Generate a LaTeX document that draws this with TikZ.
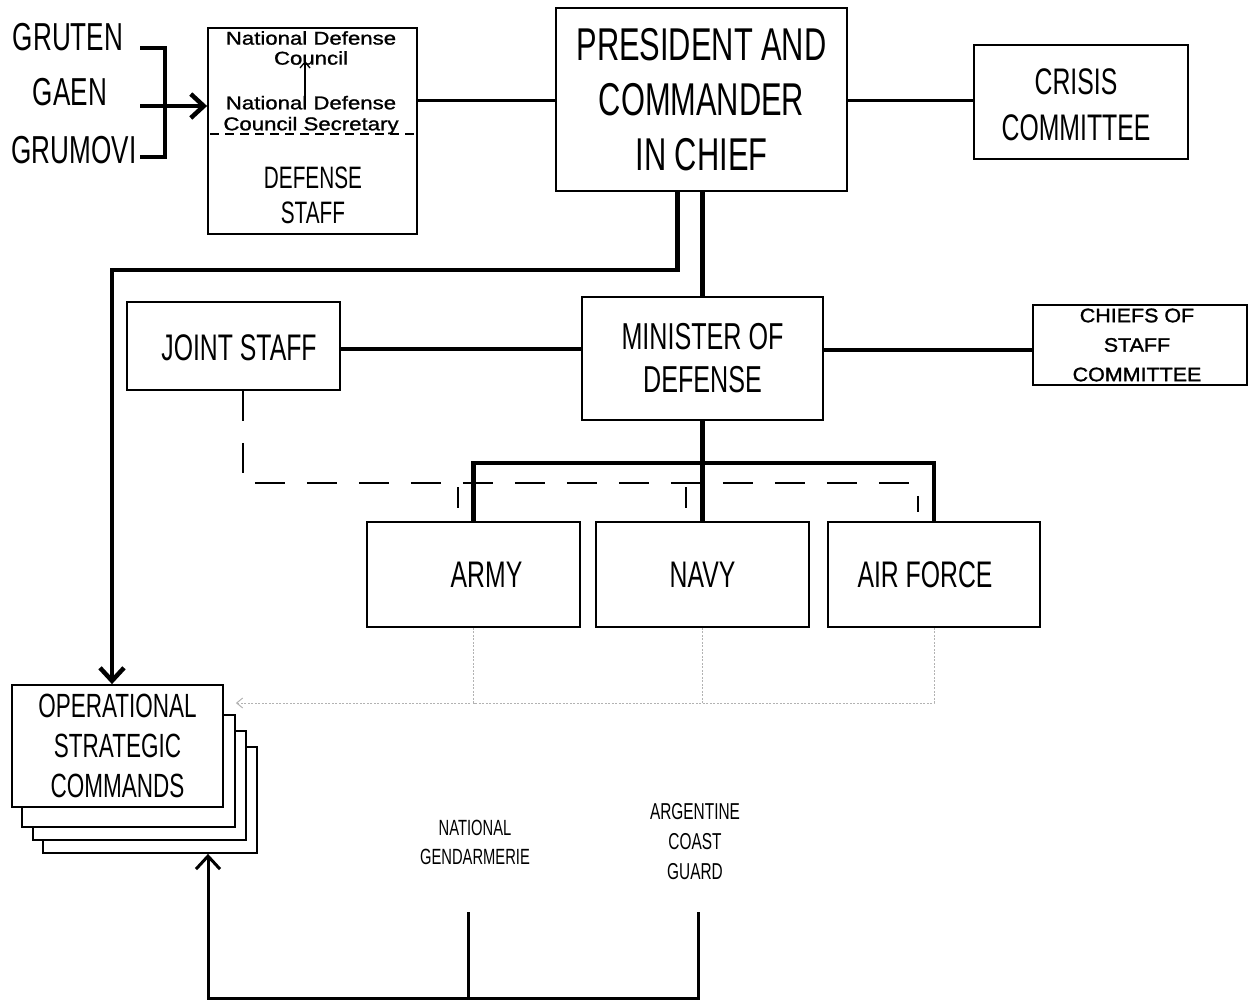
\documentclass[tikz,border=0pt]{standalone}
\usepackage{fontspec}
\setmainfont{Liberation Sans}
\newfontfamily\nar[FakeStretch=0.67]{Liberation Sans}
\newfontfamily\wid[FakeStretch=1.2,FakeBold=1.2]{Liberation Sans}
\newfontfamily\widb[FakeStretch=1.1,FakeBold=1.5]{Liberation Sans}
\usetikzlibrary{arrows.meta}
\begin{document}
\begin{tikzpicture}[x=1pt,y=-1pt,
  box/.style={draw, line width=1.8pt, rectangle, inner sep=0pt, align=center, fill=white},
  lbl/.style={align=center, inner sep=0pt},
  thk/.style={line width=4.5pt},
  med/.style={line width=3pt},
  arr/.style={-{Straight Barb[length=13pt,width=24pt]}},
  dsh/.style={line width=2.5pt, dash pattern=on 30pt off 22pt},
  dot/.style={gray!60, line width=1pt, dash pattern=on 2pt off 1.5pt}]
\useasboundingbox (0,0) rectangle (1251,1002);

% left group
\node[lbl, font=\nar\fontsize{39}{47}\selectfont] (gruten) at (68,37) {GRUTEN};
\node[lbl, font=\nar\fontsize{39}{47}\selectfont] (gaen) at (70,92) {GAEN};
\node[lbl, font=\nar\fontsize{39}{47}\selectfont] (grumovi) at (74,150) {GRUMOVI};
\coordinate (b1) at (140,48);
\coordinate (b2) at (140,157);
\coordinate (b3) at (140,106);
\draw[thk] (b1) -| (165,157) -- (b2);

% defense staff
\node[box, minimum width=209pt, minimum height=206pt] (ds) at (312.5,131) {};
\draw[thk, arr] (b3) -- (ds.west |- b3);
\node[lbl, font=\wid\fontsize{18.5}{20}\selectfont] (ndc1) at (311,48) {National Defense\\Council};
\node[lbl, font=\wid\fontsize{18.5}{21}\selectfont] (ndc2) at (311,115) {National Defense\\Council Secretary};
\draw[line width=1.3pt, -{Straight Barb[length=6pt,width=10pt]}] (305,98) -- (305,61);
\draw[line width=1.3pt, dash pattern=on 9pt off 6pt] (210,134) -- (416,134);
\node[lbl, font=\nar\fontsize{31}{35}\selectfont] (dstaff) at (313,195) {DEFENSE\\STAFF};

% president
\node[box, minimum width=291pt, minimum height=183pt, font=\nar\fontsize{46}{55}\selectfont] (pres) at (701.5,99.5) {PRESIDENT AND\\COMMANDER\\IN CHIEF};
\node[box, line width=1.4pt, minimum width=214pt, minimum height=114pt] (crisis) at (1081,102) {};
\node[lbl, font=\nar\fontsize{37}{46}\selectfont] (crisisT) at (1076,105) {CRISIS\\COMMITTEE};
\draw[med] (ds.east |- 0,100) -- (pres.west |- 0,100);
\draw[med] (pres.east |- 0,100) -- (crisis.west |- 0,100);

% minister row
\node[box, minimum width=241pt, minimum height=123pt, font=\nar\fontsize{37.5}{43}\selectfont] (minister) at (702.5,358.5) {MINISTER OF\\DEFENSE};
\node[box, minimum width=213pt, minimum height=88pt] (joint) at (233.5,346) {};
\node[lbl, font=\nar\fontsize{37}{44}\selectfont] (jointT) at (239,348) {JOINT STAFF};
\node[box, minimum width=214pt, minimum height=80pt] (chiefs) at (1140,345) {};
\node[lbl, font=\widb\fontsize{19.5}{29.5}\selectfont] (chiefsT) at (1137,345) {CHIEFS OF\\STAFF\\COMMITTEE};
\draw[thk] (pres.south -| minister.north) -- (minister.north);
\draw[thk] (joint.east |- 0,349) -- (minister.west |- 0,349);
\draw[thk] (minister.east |- 0,350) -- (chiefs.west |- 0,350);

% services
\node[box, minimum width=213pt, minimum height=105pt, font=\nar\fontsize{37}{44}\selectfont] (army) at (473.5,574.5) {\hspace*{26pt}ARMY};
\node[box, minimum width=213pt, minimum height=105pt, font=\nar\fontsize{37}{44}\selectfont] (navy) at (702.5,574.5) {NAVY};
\node[box, minimum width=212pt, minimum height=105pt, font=\nar\fontsize{37}{44}\selectfont] (airforce) at (934,574.5) {AIR FORCE\hspace*{18pt}};
\draw[thk] (minister.south) -- (navy.north);
\draw[thk] (army.north) -- (army.north |- 0,463) -| (airforce.north);

% dashed joint staff link
\coordinate (d0) at (458,508);
\coordinate (d1) at (686,508);
\coordinate (d2) at (918,512);
\draw[dsh] ([xshift=9.5pt]joint.south) -- (243,483) -- (918,483) -- (d2);
\draw[line width=2.5pt] (458,487) -- (d0);
\draw[line width=2.5pt] (686,487) -- (d1);

% OSC stack
\node[box, minimum width=214pt, minimum height=106pt] (osc4) at (150,800) {};
\node[box, minimum width=213pt, minimum height=109pt] (osc3) at (139.5,785.5) {};
\node[box, minimum width=213pt, minimum height=112pt] (osc2) at (128.5,771) {};
\node[box, minimum width=211pt, minimum height=122pt, font=\nar\fontsize{33.6}{40}\selectfont] (osc) at (117.5,746) {OPERATIONAL\\STRATEGIC\\COMMANDS};
\draw[thk, arr] ([xshift=-24pt]pres.south) -- ++(0,78) -| ([xshift=-5.5pt]osc.north);

% dotted gray links
\draw[dot] (army.south) -- (army.south |- 0,703) -| (airforce.south);
\draw[dot] (navy.south) -- (navy.south |- 0,703);
\draw[dot, -{Straight Barb[length=6pt,width=10pt]}] (470,703) -- (osc2.east |- 0,703);

% gendarmerie, coast guard
\node[lbl, font=\nar\fontsize{22}{29}\selectfont] (gend) at (475,842) {NATIONAL\\GENDARMERIE};
\node[lbl, font=\nar\fontsize{23}{30}\selectfont] (coast) at (695,842) {ARGENTINE\\COAST\\GUARD};
\coordinate (g1) at (468,912);
\coordinate (c1) at (698,912);
\draw[med] (g1) -- (468,998);
\draw[med, arr] (c1) -- (698,998) -| ([xshift=58pt]osc4.south);
\end{tikzpicture}
\end{document}
